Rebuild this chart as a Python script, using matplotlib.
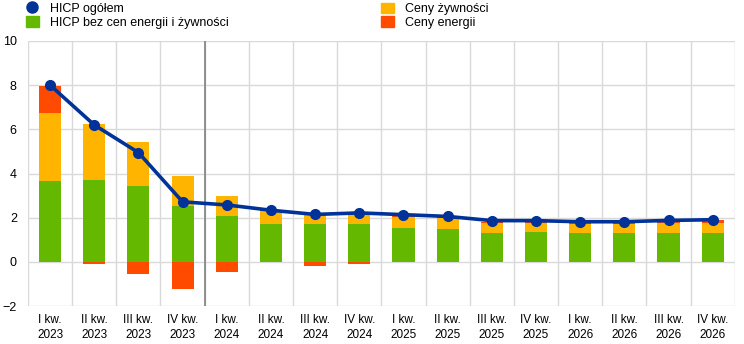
import matplotlib
matplotlib.use("Agg")
import matplotlib.pyplot as plt
from matplotlib.lines import Line2D
from matplotlib.patches import Patch
import numpy as np

quarters = ["I kw.\n2023", "II kw.\n2023", "III kw.\n2023", "IV kw.\n2023",
            "I kw.\n2024", "II kw.\n2024", "III kw.\n2024", "IV kw.\n2024",
            "I kw.\n2025", "II kw.\n2025", "III kw.\n2025", "IV kw.\n2025",
            "I kw.\n2026", "II kw.\n2026", "III kw.\n2026", "IV kw.\n2026"]

hicp = [8.0, 6.2, 4.95, 2.72, 2.58, 2.34, 2.15, 2.22,
        2.14, 2.06, 1.87, 1.87, 1.82, 1.82, 1.88, 1.91]
core = [3.67, 3.70, 3.43, 2.52, 2.10, 1.71, 1.73, 1.73,
        1.55, 1.51, 1.30, 1.37, 1.33, 1.33, 1.33, 1.33]
food = [3.05, 2.56, 1.99, 1.36, 0.87, 0.60, 0.50, 0.53,
        0.49, 0.49, 0.48, 0.41, 0.40, 0.40, 0.45, 0.45]
energy = [1.25, -0.10, -0.53, -1.21, -0.44, 0.02, -0.18, -0.07,
          0.06, 0.03, 0.05, 0.03, 0.02, 0.02, 0.03, 0.12]

BLUE = "#003299"
GREEN = "#65b800"
YELLOW = "#ffb400"
RED = "#ff4b00"

fig = plt.figure(figsize=(7.44, 3.44), dpi=100)
ax = fig.add_axes([0.0376, 0.110, 0.950, 0.771])

x = np.arange(len(quarters))
core = np.array(core)
food = np.array(food)
energy = np.array(energy)

w = 0.5
ax.bar(x, core, width=w, color=GREEN, zorder=2)
ax.bar(x, food, width=w, bottom=core, color=YELLOW, zorder=2)
# energy sits on top of the stack when positive, below zero when negative
e_bottom = np.where(energy >= 0, core + food, 0.0)
ax.bar(x, energy, width=w, bottom=e_bottom, color=RED, zorder=2)

ax.plot(x, hicp, color=BLUE, lw=2.6, marker="o", ms=7, zorder=4)

# projection cut-off
ax.axvline(3.5, color="#808080", lw=1.2, zorder=3)

ax.set_xlim(-0.5, len(quarters) - 0.5)
ax.set_ylim(-2, 10)
ax.set_yticks(range(-2, 11, 2))
ax.set_xticks(x)
ax.set_xticklabels(quarters, family=["Liberation Sans Narrow", "Liberation Sans", "DejaVu Sans"],
                   fontsize=8.5, linespacing=1.3)
for lab in ax.get_yticklabels():
    lab.set_fontsize(9)
    lab.set_family(["Liberation Sans", "DejaVu Sans"])

ax.set_xticks(np.arange(-0.5, len(quarters), 1), minor=True)
ax.grid(True, axis="x", which="minor", color="#d9d9d9", lw=1, zorder=0)
ax.grid(True, axis="y", which="major", color="#d9d9d9", lw=1, zorder=0)
ax.tick_params(axis="both", which="both", length=0)
ax.tick_params(axis="y", pad=8)
ax.tick_params(axis="x", pad=6)
for s in ax.spines.values():
    s.set_visible(False)

leg_font = {"family": ["Liberation Sans", "DejaVu Sans"], "size": 9}
h1 = [Line2D([], [], color=BLUE, marker="o", ls="none", ms=8),
      Patch(color=GREEN)]
h2 = [Patch(color=YELLOW), Patch(color=RED)]
fig.legend(h1, ["HICP ogółem", "HICP bez cen energii i żywności"],
           loc="upper left", bbox_to_anchor=(0.02, 1.025), frameon=False,
           prop=leg_font, handlelength=1.0, handleheight=0.9,
           handletextpad=0.9, labelspacing=0.1)
fig.legend(h2, ["Ceny żywności", "Ceny energii"],
           loc="upper left", bbox_to_anchor=(0.497, 1.025), frameon=False,
           prop=leg_font, handlelength=1.0, handleheight=0.9,
           handletextpad=0.9, labelspacing=0.1)

fig.savefig("out.png", dpi=100)
